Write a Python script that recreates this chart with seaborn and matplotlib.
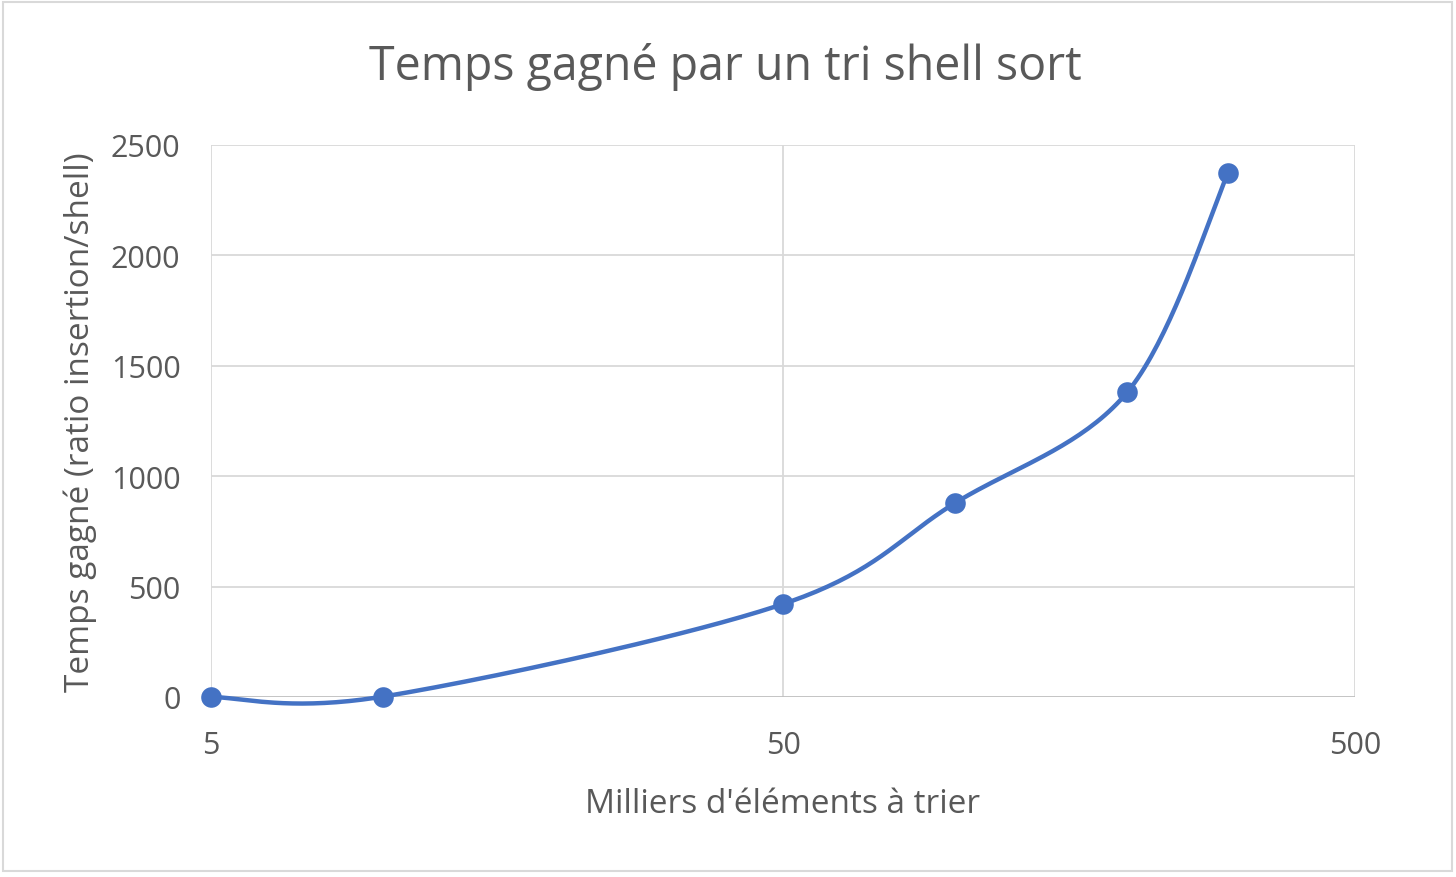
import numpy as np
import pandas as pd
import matplotlib
matplotlib.use("Agg")
import matplotlib.pyplot as plt
import seaborn as sns

# données
milliers = [5, 10, 50, 100, 200, 300]
gain = [0, 2, 421, 879, 1381, 2373]
xticks = [5, 50, 500]
yticks = [0, 500, 1000, 1500, 2000, 2500]

sns.set_theme(style="white")
plt.rcParams['font.family'] = ['Open Sans', 'DejaVu Sans']

blue = "#4472C4"
grey_txt = "#595959"
grid_c = "#D9D9D9"

df = pd.DataFrame({"x": milliers, "y": gain})

# lissage type Excel (Catmull-Rom) dans l'espace de l'axe (log x)
W, H = 1144.0, 552.0
u = (np.log10(df["x"].values) - np.log10(5)) / 2 * W
v = df["y"].values / 2500 * H
P = np.column_stack([u, v])
P_ext = np.vstack([P[0], P, P[-1]])
curve = []
for i in range(len(P) - 1):
    p0, p1, p2, p3 = P_ext[i], P_ext[i + 1], P_ext[i + 2], P_ext[i + 3]
    c1 = p1 + (p2 - p0) / 6
    c2 = p2 - (p3 - p1) / 6
    for t in np.linspace(0, 1, 40):
        b = ((1 - t) ** 3) * p1 + 3 * ((1 - t) ** 2) * t * c1 + 3 * (1 - t) * t ** 2 * c2 + t ** 3 * p2
        curve.append(b)
curve = np.array(curve)
smooth = pd.DataFrame({
    "x": 5 * 10 ** (curve[:, 0] / W * 2),
    "y": curve[:, 1] / H * 2500,
})

fig = plt.figure(figsize=(14.56, 8.78), dpi=100)
ax = fig.add_axes([211 / 1456, 1 - 698 / 878, 1144 / 1456, 552 / 878])

ax.set_xscale("log")
ax.set_xlim(5, 500)
ax.set_ylim(0, 2500)
ax.set_xticks(xticks)
ax.set_xticklabels([str(t) for t in xticks])
ax.minorticks_off()
ax.set_yticks(yticks)

for t in yticks[1:]:
    ax.axhline(t, color=grid_c, lw=1.3, zorder=0)
for t in xticks:
    ax.axvline(t, color=grid_c, lw=1.3, zorder=0)
ax.axhline(0, color="#BFBFBF", lw=1.3, zorder=0)

sns.lineplot(data=smooth, x="x", y="y", sort=False, color=blue, lw=3.2, ax=ax, zorder=3, clip_on=False)
sns.scatterplot(data=df, x="x", y="y", color=blue, s=220, edgecolor=blue, linewidth=0, ax=ax, zorder=4, clip_on=False)

for s in ax.spines.values():
    s.set_visible(False)
ax.tick_params(axis="both", length=0, labelsize=22, labelcolor=grey_txt)
ax.tick_params(axis="x", pad=24)
ax.tick_params(axis="y", pad=22)

ax.set_xlabel("Milliers d'éléments à trier", fontsize=24, color=grey_txt, labelpad=19)
ax.set_ylabel("Temps gagné (ratio insertion/shell)", fontsize=24, color=grey_txt, labelpad=10)
fig.text(0.498, 1 - 67 / 878, "Temps gagné par un tri shell sort", fontsize=33.5,
         color=grey_txt, ha="center", va="center")

fig.patches.append(plt.Rectangle((3 / 1456, 6 / 878), 1449 / 1456, 869 / 878, transform=fig.transFigure,
                                 fill=False, edgecolor=grid_c, lw=1.5))

fig.savefig("out.png", dpi=100)
